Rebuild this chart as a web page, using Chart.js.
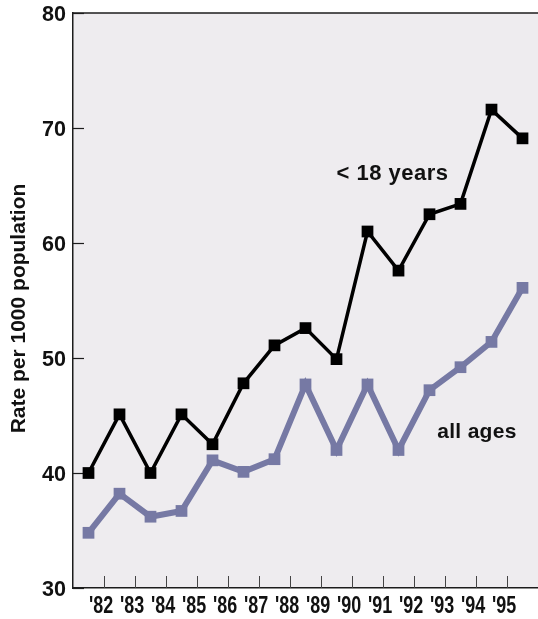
<!DOCTYPE html>
<html>
<head>
<meta charset="utf-8">
<script src="https://cdn.jsdelivr.net/npm/chart.js@4.4.0/dist/chart.umd.min.js"></script>
<style>
    html, body { margin: 0; padding: 0; background: #ffffff; }
    #wrap { width: 538px; height: 619px; }
</style>
</head>
<body>
<div id="wrap"><canvas id="rate-chart" width="538" height="619"></canvas></div>
<script>
// Data
const tickLabels = ["'82", "'83", "'84", "'85", "'86", "'87", "'88", "'89", "'90", "'91", "'92", "'93", "'94", "'95"];
const under18 = [40.0, 45.1, 40.0, 45.1, 42.5, 47.8, 51.1, 52.6, 49.9, 61.0, 57.6, 62.5, 63.4, 71.6, 69.1];
const allAges = [34.8, 38.2, 36.2, 36.7, 41.1, 40.1, 41.2, 47.7, 42.0, 47.7, 42.0, 47.2, 49.2, 51.4, 56.1];
const yTicks = [30, 40, 50, 60, 70, 80];
const seriesNames = ['< 18 years', 'all ages'];
const yTitle = 'Rate per 1000 population';

const textFont = "'Liberation Sans', Arial, sans-serif";
const axisColor = '#1c1c1c';
const blue = '#7679a4';

// each point sits in the middle of its year slot, ticks fall between slots
function toPoints(values) {
    return values.map((v, i) => ({ x: i + 0.5, y: v }));
}

// series labels placed in data units
const seriesLabels = [
    { text: seriesNames[0], x: 8.5, y: 65.5, size: 22, spacing: 0.5 },
    { text: seriesNames[1], x: 11.75, y: 43.05, size: 21, spacing: 0.3 },
];

// draws text squeezed sideways, to look like the condensed face of the original
function condensedText(ctx, text, x, y, squeeze) {
    ctx.save();
    ctx.translate(x, y);
    ctx.scale(squeeze, 1);
    ctx.fillText(text, 0, 0);
    ctx.restore();
}

const frameAndTicks = {
    id: 'frameAndTicks',
    beforeDraw(chart) {
        let ctx = chart.ctx;
        let a = chart.chartArea;
        ctx.save();
        ctx.fillStyle = '#eeecef';
        ctx.fillRect(a.left, a.top, a.right - a.left, a.bottom - a.top);
        ctx.restore();
    },
    beforeDatasetsDraw(chart) {
        let ctx = chart.ctx;
        let a = chart.chartArea;
        let xs = chart.scales.x;
        let ys = chart.scales.y;
        ctx.save();
        ctx.strokeStyle = axisColor;
        ctx.lineWidth = 1.5;
        // top line
        ctx.beginPath();
        ctx.moveTo(a.left, a.top);
        ctx.lineTo(a.right, a.top);
        ctx.stroke();
        ctx.lineWidth = 1.2;
        // inward y ticks
        yTicks.forEach(v => {
            let py = Math.round(ys.getPixelForValue(v)) + 0.5;
            ctx.beginPath();
            ctx.moveTo(a.left, py);
            ctx.lineTo(a.left + 11, py);
            ctx.stroke();
        });
        // inward x ticks at slot boundaries
        ctx.strokeStyle = '#444';
        ctx.lineWidth = 1;
        tickLabels.forEach((lbl, i) => {
            let px = Math.round(xs.getPixelForValue(i + 1)) + 0.5;
            ctx.beginPath();
            ctx.moveTo(px, a.bottom);
            ctx.lineTo(px, a.bottom - 12);
            ctx.stroke();
        });
        ctx.restore();
    },
    afterDatasetsDraw(chart) {
        let ctx = chart.ctx;
        let a = chart.chartArea;
        let xs = chart.scales.x;
        let ys = chart.scales.y;
        ctx.save();
        ctx.fillStyle = '#111';
        ctx.textBaseline = 'alphabetic';

        // series labels
        ctx.textAlign = 'left';
        seriesLabels.forEach(l => {
            ctx.font = 'bold ' + l.size + 'px ' + textFont;
            ctx.letterSpacing = l.spacing + 'px';
            ctx.fillText(l.text, xs.getPixelForValue(l.x), ys.getPixelForValue(l.y));
        });
        ctx.letterSpacing = '0px';

        // x tick labels, a little left of each tick
        ctx.font = 'bold 23px ' + textFont;
        ctx.textAlign = 'center';
        tickLabels.forEach((lbl, i) => {
            condensedText(ctx, lbl, xs.getPixelForValue(i + 1) - 3, a.bottom + 25, 0.78);
        });

        // y tick labels
        ctx.font = 'bold 22px ' + textFont;
        ctx.textAlign = 'right';
        yTicks.forEach(v => {
            condensedText(ctx, String(v), a.left - 7, ys.getPixelForValue(v) + 8, 0.98);
        });

        // y axis title
        ctx.save();
        ctx.translate(19, (a.top + a.bottom) / 2 + 8);
        ctx.rotate(-Math.PI / 2);
        ctx.font = 'bold 21px ' + textFont;
        ctx.textAlign = 'center';
        ctx.textBaseline = 'middle';
        ctx.fillText(yTitle, 0, 0);
        ctx.restore();

        ctx.restore();
    }
};

let rateChart = new Chart(document.getElementById('rate-chart').getContext('2d'), {
    type: 'line',
    data: {
        datasets: [
            {
                label: seriesNames[0],
                data: toPoints(under18),
                borderColor: '#000000',
                backgroundColor: '#000000',
                borderWidth: 3.5,
                pointStyle: 'rect',
                pointRadius: 8.3,
                pointBorderWidth: 0,
                pointBackgroundColor: '#000000',
                borderJoinStyle: 'miter',
                tension: 0,
            },
            {
                label: seriesNames[1],
                data: toPoints(allAges),
                borderColor: blue,
                backgroundColor: blue,
                borderWidth: 6,
                pointStyle: 'rect',
                pointRadius: 8.3,
                pointBorderWidth: 0,
                pointBackgroundColor: blue,
                borderJoinStyle: 'miter',
                tension: 0,
            },
        ]
    },
    options: {
        responsive: false,
        animation: false,
        devicePixelRatio: 1,
        layout: {
            autoPadding: false,
            padding: { top: 13, left: 0, right: 0, bottom: 0 }
        },
        plugins: {
            legend: { display: false },
            tooltip: { enabled: false },
        },
        scales: {
            x: {
                type: 'linear',
                min: 0,
                max: 15,
                afterFit(scale) {
                    scale.height = 31;
                    scale.paddingLeft = 0;
                    scale.paddingRight = 0;
                },
                afterBuildTicks(scale) {
                    scale.ticks = tickLabels.map((l, i) => ({ value: i + 1 }));
                },
                grid: { display: false, drawTicks: false },
                border: { display: true, color: axisColor, width: 1.5 },
                ticks: { display: false },
            },
            y: {
                min: 30,
                max: 80,
                afterFit(scale) {
                    scale.width = 73;
                    scale.paddingTop = 0;
                    scale.paddingBottom = 0;
                },
                afterBuildTicks(scale) {
                    scale.ticks = yTicks.map(v => ({ value: v }));
                },
                grid: { display: false, drawTicks: false },
                border: { display: true, color: axisColor, width: 1.5 },
                ticks: { display: false },
            },
        },
    },
    plugins: [frameAndTicks],
});
</script>
</body>
</html>
